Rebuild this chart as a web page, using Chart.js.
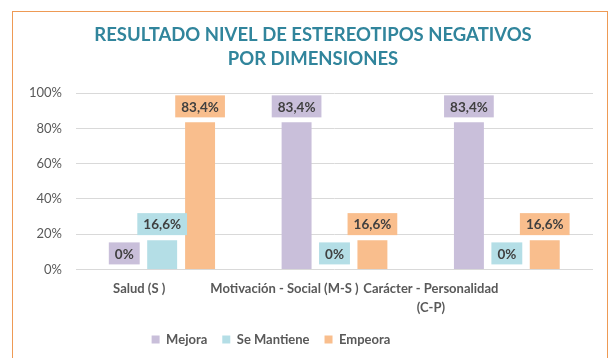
<!DOCTYPE html>
<html>
<head>
<meta charset="utf-8">
<script src="https://cdn.jsdelivr.net/npm/chart.js@4/dist/chart.umd.min.js"></script>
<style>
  html, body { margin: 0; padding: 0; background: #fff; }
  #wrap { position: relative; width: 615px; height: 358px; }
  #frame { position: absolute; left: 12px; top: 11px; width: 596px; height: 360px;
           border: 1.5px solid #EE9A55; box-sizing: border-box; pointer-events: none; }
  canvas { position: absolute; left: 0; top: 0; }
</style>
</head>
<body>
<div id="wrap">
  <canvas id="chart" width="615" height="358"></canvas>
  <div id="frame"></div>
</div>
<script>
// Dimensions and results per group
const categories = ['Salud (S )', 'Motivación - Social (M-S )', ['Carácter - Personalidad', '(C-P)']];
const mejora = [0, 83.4, 83.4];
const seMantiene = [16.6, 0, 0];
const empeora = [83.4, 16.6, 16.6];
const yTicks = [0, 20, 40, 60, 80, 100];

const FONT = 'Lato, "Open Sans", sans-serif';
const colors = { mejora: '#C9BFDA', mantiene: '#B4DEE6', empeora: '#F9BE8D' };

const fmt = v => (Math.round(v * 10) / 10).toString().replace('.', ',') + '%';

// Value labels in filled boxes above each bar
const boxLabels = {
  id: 'boxLabels',
  afterDatasetsDraw(chart) {
    const ctx = chart.ctx;
    ctx.save();
    ctx.font = 'bold 13.5px ' + FONT;
    ctx.textAlign = 'center';
    ctx.textBaseline = 'middle';
    chart.data.datasets.forEach((ds, i) => {
      const meta = chart.getDatasetMeta(i);
      meta.data.forEach((bar, j) => {
        const text = fmt(ds.data[j]);
        const w = Math.max(ctx.measureText(text).width + 12, 30);
        const h = 22;
        const bottom = bar.y - 5;
        ctx.fillStyle = ds.backgroundColor;
        ctx.fillRect(bar.x - w / 2, bottom - h, w, h);
        ctx.fillStyle = '#404040';
        ctx.fillText(text, bar.x, bottom - h / 2 + 1);
      });
    });
    ctx.restore();
  }
};

// Category labels sit left of their bar groups; legend a bit left and lower;
// title centred over the frame
const tickShift = [-23, -50, -76];
const nudge = {
  id: 'nudge',
  afterLayout(chart) {
    const lg = chart.legend;
    lg.left -= 34; lg.right -= 34;
    lg.top += 3; lg.bottom += 3;
    const t = chart.titleBlock;
    t.left += 8; t.right += 8;
  },
  beforeDraw(chart) {
    const items = chart.scales.x.getLabelItems(chart.chartArea);
    items.forEach((it, i) => { it.options.translation[0] += tickShift[i] || 0; });
  }
};

new Chart(document.getElementById('chart'), {
  type: 'bar',
  data: {
    labels: categories,
    datasets: [
      { label: 'Mejora', data: mejora, backgroundColor: colors.mejora },
      { label: 'Se Mantiene', data: seMantiene, backgroundColor: colors.mantiene },
      { label: 'Empeora', data: empeora, backgroundColor: colors.empeora }
    ]
  },
  options: {
    responsive: false,
    animation: false,
    devicePixelRatio: 1,
    layout: { padding: { left: 17, right: 22, bottom: 5 } },
    datasets: { bar: { categoryPercentage: 0.66, barPercentage: 0.79 } },
    scales: {
      x: {
        afterFit(scale) { scale.height = 45.6; },
        grid: { display: false, drawTicks: false },
        border: { display: false },
        ticks: {
          color: '#595959', font: { family: FONT, size: 13, weight: 'bold', lineHeight: 1.45 },
          padding: 10, maxRotation: 0, autoSkip: false
        }
      },
      y: {
        min: 0, max: 100,
        afterFit(scale) { scale.width = 59; },
        afterBuildTicks(scale) { scale.ticks = yTicks.map(v => ({ value: v })); },
        grid: { color: '#D9D9D9', drawTicks: false },
        border: { display: false },
        ticks: {
          color: '#595959', font: { family: FONT, size: 13 }, padding: 14,
          callback: v => v + '%'
        }
      }
    },
    plugins: {
      title: {
        display: true,
        text: ['RESULTADO NIVEL DE ESTEREOTIPOS NEGATIVOS', 'POR DIMENSIONES'],
        color: '#31859C',
        font: { family: FONT, size: 18.5, weight: 'bold', lineHeight: 1.3 },
        padding: { top: 23, bottom: 22 }
      },
      legend: {
        position: 'bottom',
        labels: {
          color: '#595959', font: { family: FONT, size: 13, weight: 'bold' },
          boxWidth: 8, boxHeight: 8, padding: 15
        }
      },
      tooltip: { enabled: false }
    }
  },
  plugins: [boxLabels, nudge]
});
</script>
</body>
</html>
